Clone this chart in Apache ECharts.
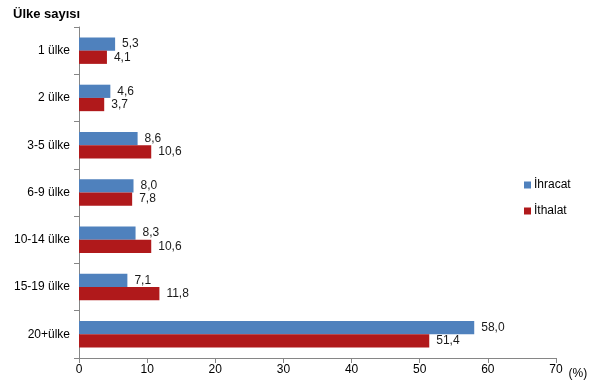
<!DOCTYPE html>
<html><head><meta charset="utf-8">
<script src="https://cdn.jsdelivr.net/npm/echarts@6/dist/echarts.min.js"></script>
<style>html,body{margin:0;padding:0;background:#fff}#c{width:607px;height:391px}</style>
</head><body><div id="c"></div>
<script>
const categories = ['1 ülke','2 ülke','3-5 ülke','6-9 ülke','10-14 ülke','15-19 ülke','20+ülke'];
const ihracat = [5.3,4.6,8.6,8.0,8.3,7.1,58.0];
const ithalat = [4.1,3.7,10.6,7.8,10.6,11.8,51.4];
const xTicks = [0,10,20,30,40,50,60,70];

const fmt = p => p.value.toFixed(1).replace('.', ',');
const lbl = {show:true, position:'right', distance:7, formatter:fmt, color:'#1a1a1a', fontFamily:'Arial, Liberation Sans', fontSize:12};
const chart = echarts.init(document.getElementById('c'));
chart.setOption({
  animation:false,
  title:{text:'Ülke sayısı', left:8, top:3, textStyle:{fontFamily:'Arial, Liberation Sans', fontSize:13, fontWeight:'bold', color:'#000'}},
  legend:{orient:'vertical', left:519, top:174, itemWidth:7, itemHeight:7, itemGap:14, icon:'rect',
    textStyle:{fontFamily:'Arial, Liberation Sans', fontSize:12, color:'#000', padding:[0,0,0,-2]}},
  grid:{left:79, right:51, top:27, bottom:33},
  xAxis:{type:'value', min:xTicks[0], max:xTicks[xTicks.length-1], interval:10,
    name:'(%)', nameLocation:'end', nameGap:10,
    nameTextStyle:{fontFamily:'Arial, Liberation Sans', fontSize:12, color:'#000', verticalAlign:'top', padding:[10,0,0,0]},
    axisLine:{show:true, lineStyle:{color:'#868686'}},
    axisTick:{show:true, length:5, lineStyle:{color:'#868686'}},
    axisLabel:{fontFamily:'Arial, Liberation Sans', fontSize:12, color:'#000', margin:6},
    splitLine:{show:false}},
  yAxis:{type:'category', data:categories, inverse:true,
    axisLine:{show:true, lineStyle:{color:'#868686'}},
    axisTick:{show:true, length:5, lineStyle:{color:'#868686'}},
    axisLabel:{fontFamily:'Arial, Liberation Sans', fontSize:12, color:'#000', margin:9}},
  series:[
    {name:'İhracat', type:'bar', data:ihracat, itemStyle:{color:'#4F81BD'}, barCategoryGap:'44%', barGap:'0%', label:lbl},
    {name:'İthalat', type:'bar', data:ithalat, itemStyle:{color:'#B0191B'}, label:lbl}
  ]
});
</script></body></html>
